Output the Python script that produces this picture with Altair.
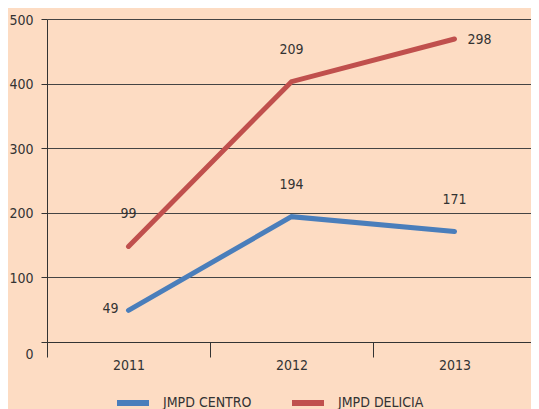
import altair as alt
import pandas as pd

years = ["2011", "2012", "2013"]
series = ["JMPD CENTRO", "JMPD DELICIA"]
centro = [49, 194, 171]
delicia = [99, 209, 298]
colors = ["#4A7EBB", "#C0504D"]

rows = []
for i, s in enumerate(series):
    vals = centro if i == 0 else delicia
    for y, v in zip(years, vals):
        rows.append({"year": y, "series": s, "value": v, "k": i})
df = pd.DataFrame(rows)

FONT = "DejaVu Sans Condensed, Roboto Condensed, Liberation Sans Narrow, Roboto, sans-serif"
FS = 14

base = alt.Chart(df).transform_stack(
    stack="value", groupby=["year"], as_=["y0", "y1"], sort=[alt.SortField("k")]
)

x_enc = alt.X(
    "year:O",
    bandPosition=0.5,
    scale=alt.Scale(type="band", paddingInner=0, paddingOuter=0, range=[0, 489]),
    axis=alt.Axis(
        title=None, labelAngle=0, tickBand="extent", tickSize=15, labelPadding=1,
        domainColor="#333", tickColor="#333", labelColor="#333",
        labelFont=FONT, labelFontSize=FS, grid=False,
    ),
)
y_enc = alt.Y(
    "y1:Q",
    scale=alt.Scale(domain=[0, 500], nice=False),
    axis=alt.Axis(
        title=None, values=[0, 100, 200, 300, 400, 500], tickSize=6, labelPadding=8,
        domainColor="#333", tickColor="#333", labelColor="#333",
        labelFont=FONT, labelFontSize=FS, grid=True, gridColor="#444", gridOpacity=1,
        labelOffset={"condition": {"test": "datum.value == 0", "value": 12}, "value": 1},
    ),
)

lines = base.mark_line(strokeWidth=5, strokeCap="round").encode(
    x=x_enc,
    y=y_enc,
    color=alt.Color(
        "series:N",
        scale=alt.Scale(domain=series, range=colors),
        legend=alt.Legend(
            title=None, orient="none", direction="horizontal", legendX=67, legendY=365,
            symbolType="stroke", symbolSize=1024, symbolStrokeWidth=6,
            labelFont=FONT, labelFontSize=FS, labelColor="#333", labelOffset=11,
            columnPadding=28, padding=0,
        ),
    ),
    detail="series:N",
)

txt_kw = dict(font=FONT, fontSize=FS, color="#333")
above = base.mark_text(dy=-32, **txt_kw).encode(
    x=x_enc, y=y_enc, text="value:Q"
).transform_filter(
    "!((datum.k == 0 && datum.year == '2011') || (datum.k == 1 && datum.year == '2013'))"
)
left = base.mark_text(align="right", dx=-10, dy=-1, **txt_kw).encode(
    x=x_enc, y=y_enc, text="value:Q"
).transform_filter("datum.k == 0 && datum.year == '2011'")
right = base.mark_text(align="left", dx=13, dy=1, **txt_kw).encode(
    x=x_enc, y=y_enc, text="value:Q"
).transform_filter("datum.k == 1 && datum.year == '2013'")

chart = alt.layer(lines, above, left, right).properties(
    width=484, height=323,
    autosize=alt.AutoSizeParams(type="none"),
    padding={"left": 39, "top": 11, "right": 0, "bottom": 70},
    background="#FDDCC3",
).configure_view(stroke=None)

chart.save("out.html", embed_options={"renderer": "svg", "actions": False})
